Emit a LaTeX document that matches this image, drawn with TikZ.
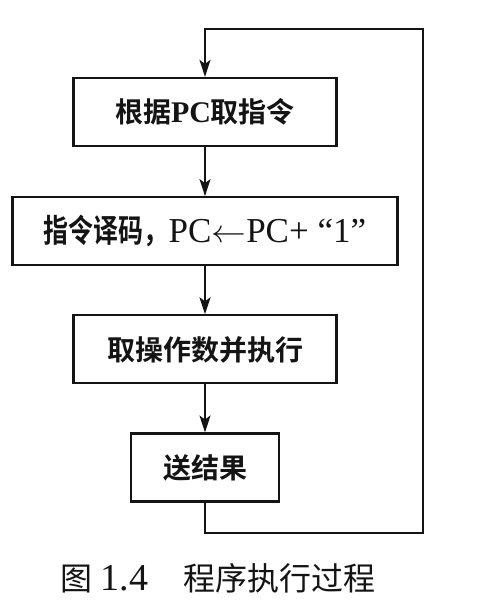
\documentclass[tikz,border=0pt]{standalone}
\usepackage{fontspec}
\setmainfont{Liberation Serif}
\newfontfamily\cjk{Noto Sans CJK SC}
\newfontfamily\cjkbf{Noto Sans CJK SC Bold}
\newfontfamily\cjkbfn[FakeStretch=0.78]{Noto Sans CJK SC Bold}
\usetikzlibrary{positioning, calc, arrows.meta}
\definecolor{Ink}{HTML}{141414}
\tikzset{
    stepnode/.style={rectangle, draw=Ink, line width=2.2pt, minimum height=68pt, inner sep=0pt, text=Ink, font=\fontsize{28}{30}\selectfont},
    arrow/.style={-{Stealth[length=17pt, width=11pt, inset=4pt]}, line width=1.8pt, color=Ink},
    captionnode/.style={text=Ink, font=\fontsize{32}{34}\selectfont},
}

\begin{document}
\begin{tikzpicture}[x=1pt, y=1pt]
    \useasboundingbox (0,0) rectangle (496,603);
    % Passi del ciclo
    \node[stepnode, minimum width=263pt] (fetch) at (205,491) {{\cjkbf 根据}{\fontsize{30}{32}\selectfont\textbf{PC}}{\cjkbf 取指令}};
    \node[stepnode, minimum width=385pt, below=49pt of fetch] (decode) {{\fontsize{32}{34}\selectfont\cjkbfn 指令译码，}{\fontsize{35}{37}\selectfont PC\scalebox{1.4}[1.3]{$\leftarrow$}PC+ “1”}};
    \node[stepnode, minimum width=263pt, below=48pt of decode] (exec) {{\cjkbf 取操作数并执行}};
    \node[stepnode, minimum width=148pt, below=48pt of exec] (send) {{\cjkbf 送结果}};

    \draw[arrow] (fetch) -- (decode);
    \draw[arrow] (decode) -- (exec);
    \draw[arrow] (exec) -- (send);

    % Ritorno al primo passo
    \coordinate (corner) at (423,574);
    \draw[arrow] (send.south) -- ++(0,-30) -| (corner) -| (fetch.north);

    % Didascalia
    \node[captionnode] (caption) at (218,25) {{\cjk 图} {\fontsize{38}{40}\selectfont 1.4}\hspace{1.1em}{\cjk 程序执行过程}};
\end{tikzpicture}
\end{document}
